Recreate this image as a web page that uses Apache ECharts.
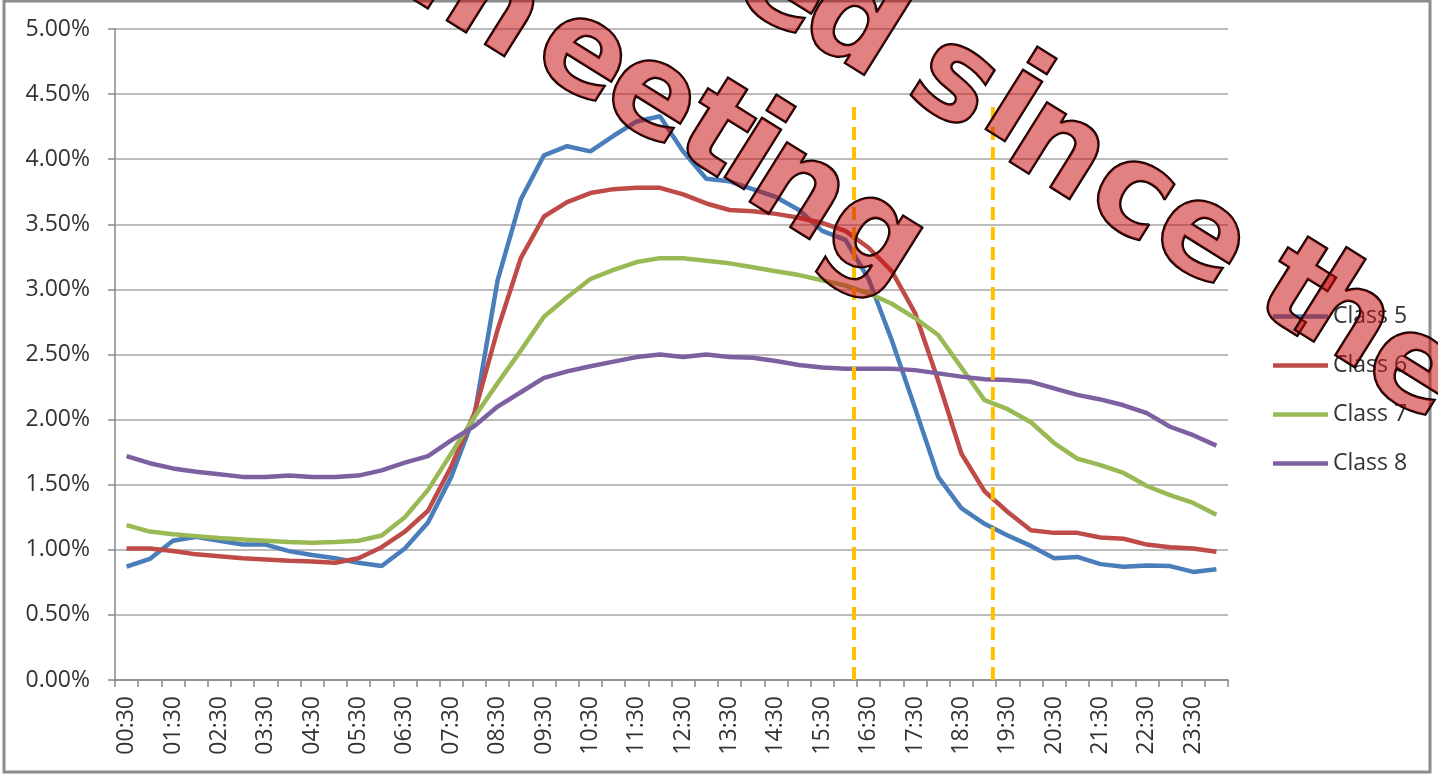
<!DOCTYPE html>
<html>
<head>
<meta charset="utf-8">
<script src="https://cdn.jsdelivr.net/npm/echarts@6/dist/echarts.min.js"></script>
<style>
  html, body { margin: 0; padding: 0; background: #fff; }
  #chart { width: 1438px; height: 779px; }
</style>
</head>
<body>
<div id="chart"></div>
<script>
// half-hour slots, first one is 00:30
var times = ['00:30','01:00','01:30','02:00','02:30','03:00','03:30','04:00','04:30','05:00','05:30','06:00',
             '06:30','07:00','07:30','08:00','08:30','09:00','09:30','10:00','10:30','11:00','11:30','12:00',
             '12:30','13:00','13:30','14:00','14:30','15:00','15:30','16:00','16:30','17:00','17:30','18:00',
             '18:30','19:00','19:30','20:00','20:30','21:00','21:30','22:00','22:30','23:00','23:30','24:00'];

// shares in percent
var class5 = [0.87,0.93,1.07,1.10,1.07,1.04,1.04,0.99,0.96,0.935,0.90,0.875,
              1.01,1.21,1.56,2.03,3.07,3.69,4.03,4.10,4.06,4.18,4.29,4.33,
              4.06,3.85,3.83,3.77,3.71,3.61,3.45,3.38,3.08,2.61,2.09,1.56,
              1.32,1.20,1.11,1.03,0.935,0.945,0.89,0.87,0.88,0.875,0.83,0.85];
var class6 = [1.01,1.01,0.99,0.965,0.95,0.935,0.925,0.915,0.91,0.90,0.935,1.02,
              1.14,1.30,1.64,2.05,2.69,3.24,3.56,3.67,3.74,3.77,3.78,3.78,
              3.73,3.66,3.61,3.60,3.58,3.55,3.51,3.45,3.32,3.14,2.82,2.30,
              1.74,1.45,1.29,1.15,1.13,1.13,1.095,1.085,1.04,1.02,1.01,0.985];
var class7 = [1.19,1.14,1.12,1.105,1.09,1.08,1.07,1.06,1.055,1.06,1.07,1.11,
              1.25,1.46,1.74,2.02,2.28,2.53,2.79,2.94,3.08,3.15,3.21,3.24,
              3.24,3.22,3.20,3.17,3.14,3.11,3.07,3.03,2.97,2.89,2.78,2.65,
              2.40,2.15,2.08,1.98,1.82,1.70,1.65,1.59,1.49,1.42,1.36,1.27];
var class8 = [1.72,1.665,1.625,1.60,1.58,1.56,1.56,1.57,1.56,1.56,1.57,1.61,
              1.67,1.72,1.84,1.95,2.10,2.21,2.32,2.37,2.41,2.445,2.48,2.50,
              2.48,2.50,2.48,2.475,2.45,2.42,2.40,2.39,2.39,2.39,2.38,2.355,
              2.33,2.31,2.305,2.29,2.24,2.19,2.155,2.11,2.05,1.945,1.88,1.80];

var seriesNames = ['Class 5','Class 6','Class 7','Class 8'];
var seriesColors = ['#4A7EBB','#BE4B48','#98B954','#7D60A0'];

// dashed markers, in slot units along the time axis, and their height in percent
var markerSlots = [31.87, 37.86];
var markerTop = 4.4;

// watermark letters: [char, x, y]
var stampLine1 = [['e',782,-10],['d',852,28],['s',953,85],['i',1013,107],['n',1057,152],['c',1131,198],
                  ['e',1200,240],['t',1293,294],['h',1342,320],['e',1412,372]];
var stampLine2 = [['m',474,-2],['e',582,58],['e',651,100],['t',713,135],['i',752,155],['n',797,192],['g',873,240]];

var font = '"Open Sans", "Liberation Sans", sans-serif';
var myChart = echarts.init(document.getElementById('chart'));

var series = [];
var allData = [class5, class6, class7, class8];
for (var i = 0; i < 4; i++) {
  series.push({
    name: seriesNames[i],
    type: 'line',
    data: allData[i],
    symbol: 'none',
    color: seriesColors[i],
    lineStyle: { width: 4.5, color: seriesColors[i] },
    animation: false
  });
}
markerSlots.forEach(function (s) {
  series.push({
    type: 'line',
    xAxisIndex: 1,
    data: [[s, 0], [s, markerTop]],
    symbol: 'none',
    silent: true,
    lineStyle: { color: '#FFC000', width: 4, type: [13, 7] },
    z: 3,
    animation: false
  });
});

var graphics = [{
  type: 'rect',
  shape: { x: 4, y: 1, width: 1426, height: 771 },
  style: { fill: 'none', stroke: '#8c8c8c', lineWidth: 3 },
  z: 0
}];
var rot = -32 * Math.PI / 180;
stampLine1.concat(stampLine2).forEach(function (l) {
  graphics.push({
    type: 'text',
    x: l[1], y: l[2],
    rotation: rot,
    z: 100,
    silent: true,
    style: {
      text: l[0],
      fontSize: 128,
      fontWeight: 'bold',
      fontFamily: '"DejaVu Sans"',
      fill: 'rgba(200,14,14,0.52)',
      stroke: '#000',
      lineWidth: 2.5,
      align: 'center', verticalAlign: 'middle',
      textAlign: 'center', textVerticalAlign: 'middle'
    }
  });
});

option = {
  backgroundColor: '#fff',
  animation: false,
  grid: { left: 115, right: 210, top: 29, bottom: 99 },
  legend: {
    orient: 'vertical',
    left: 1268, top: 300,
    icon: 'rect',
    itemWidth: 55, itemHeight: 4.5, itemGap: 26,
    data: seriesNames,
    textStyle: { fontSize: 23, color: '#333', fontFamily: font }
  },
  xAxis: [{
    type: 'category',
    data: times,
    boundaryGap: true,
    axisLine: { lineStyle: { color: '#868686', width: 1.5 } },
    axisTick: { show: true, interval: 0, length: 7, lineStyle: { color: '#868686', width: 1.5 } },
    axisLabel: { interval: 1, rotate: 90, fontSize: 23, margin: 16, color: '#333', fontFamily: font },
    splitLine: { show: false }
  }, {
    type: 'value',
    min: 0, max: 48,
    show: false
  }],
  yAxis: {
    type: 'value',
    min: 0, max: 5, interval: 0.5,
    axisLine: { show: true, lineStyle: { color: '#868686', width: 1.5 } },
    axisTick: { show: true, length: 7, lineStyle: { color: '#868686', width: 1.5 } },
    axisLabel: {
      fontSize: 23, margin: 25, color: '#333', fontFamily: font,
      formatter: function (v) { return v.toFixed(2) + '%'; }
    },
    splitLine: { lineStyle: { color: '#a6a6a6', width: 1.5 } }
  },
  series: series,
  graphic: graphics
};
myChart.setOption(option);
</script>
</body>
</html>
